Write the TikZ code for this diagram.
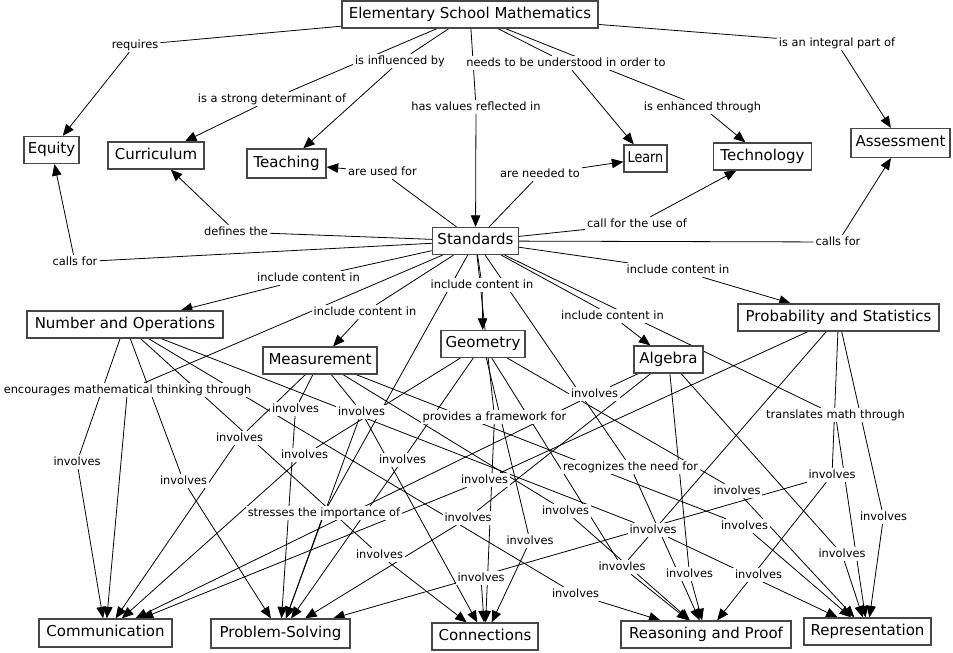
\documentclass[tikz,border=0pt]{standalone}
\usepackage{fontspec}
\setmainfont{DejaVu Sans}
\usetikzlibrary{arrows.meta}
\pgfdeclarelayer{bg}
\pgfdeclarelayer{edges}
\pgfsetlayers{bg,edges,main}
\begin{document}
\begin{tikzpicture}[x=1pt,y=-1pt,
 concept/.style={draw=black!72, line width=1.3pt, fill=white, font=\fontsize{15}{17}\selectfont, inner xsep=3pt, inner ysep=0pt, minimum height=27pt, text height=11pt, text depth=3.5pt},
 phrase/.style={fill=white, inner xsep=2pt, inner ysep=1.5pt, font=\fontsize{11.4}{13}\selectfont, text height=8.5pt, text depth=2.5pt},
 link/.style={line width=0.8pt},
 arr/.style={line width=0.8pt, -{Triangle[length=11.5pt,width=9.5pt]}},
]
\begin{pgfonlayer}{bg}
\fill[white] (0,0) rectangle (953,653);
\end{pgfonlayer}
\useasboundingbox (0,0) rectangle (953,653);
% concepts
\node[concept, minimum width=256pt] (ESM) at (470,14.5) {Elementary School Mathematics};
\node[concept, minimum width=55pt] (Equity) at (51.5,150) {Equity};
\node[concept, minimum width=96pt] (Curr) at (156,155.5) {Curriculum};
\node[concept, minimum width=79pt, minimum height=29pt] (Teach) at (286.5,163.5) {Teaching};
\node[concept, minimum width=43pt] (Learn) at (645.5,158.5) {\scalebox{0.85}[1]{Learn}};
\node[concept, minimum width=98pt] (Tech) at (762.5,156.5) {Technology};
\node[concept, minimum width=99pt, minimum height=29pt] (Assess) at (900.5,143) {Assessment};
\node[concept, minimum width=86pt] (Std) at (475.5,241) {Standards};
\node[concept, minimum width=196pt] (NO) at (125,324.5) {Number and Operations};
\node[concept, minimum width=114pt] (Meas) at (320,360.5) {Measurement};
\node[concept, minimum width=84pt] (Geo) at (483,344) {Geometry};
\node[concept, minimum width=69pt] (Alg) at (668.5,359.5) {Algebra};
\node[concept, minimum width=201pt] (Prob) at (838.5,317.5) {Probability and Statistics};
\node[concept, minimum width=133pt, minimum height=28pt] (Comm) at (105.5,633) {Communication};
\node[concept, minimum width=139pt, minimum height=29pt] (PSolv) at (280.5,633.5) {Problem-Solving};
\node[concept, minimum width=106pt] (Conn) at (485,636.5) {Connections};
\node[concept, minimum width=170pt] (RP) at (706,634.5) {Reasoning and Proof};
\node[concept, minimum width=127pt] (Rep) at (867.5,631.5) {Representation};
% linking phrases
\node[phrase] (requires) at (135,45) {requires};
\node[phrase] (infl) at (400,61) {is influenced by};
\node[phrase] (isdet) at (272,99) {is a strong determinant of};
\node[phrase] (needs) at (566,63) {needs to be understood in order to};
\node[phrase] (integral) at (837,43) {is an integral part of};
\node[phrase] (hasval) at (476,107) {has values reflected in};
\node[phrase] (enh) at (702.5,107) {is enhanced through};
\node[phrase] (usedfor) at (382.5,172) {are used for};
\node[phrase] (neededto) at (540,174) {are needed to};
\node[phrase] (defines) at (236,232) {defines the};
\node[phrase] (callsL) at (75,262) {calls for};
\node[phrase] (callfor) at (637,224) {call for the use of};
\node[phrase] (callsR) at (838,242) {calls for};
\node[phrase] (icA) at (308.5,278) {include content in};
\node[phrase] (icE) at (678,270) {include content in};
\node[phrase] (icC) at (482,285) {include content in};
\node[phrase] (icB) at (365,312) {include content in};
\node[phrase] (icD) at (612.5,316) {include content in};
\node[phrase] (encour) at (127.5,390) {encourages mathematical thinking through};
\node[phrase] (i295) at (295.5,409) {involves};
\node[phrase] (i361) at (361.5,412) {involves};
\node[phrase] (provides) at (494.5,417) {provides a framework for};
\node[phrase] (i594) at (594.5,394) {involves};
\node[phrase] (transl) at (835.5,415) {translates math through};
\node[phrase] (i77) at (77,462) {involves};
\node[phrase] (i239) at (239.5,438) {involves};
\node[phrase] (i183) at (183.5,481) {involves};
\node[phrase] (i304) at (304.5,455) {involves};
\node[phrase] (i402) at (402.5,460) {involves};
\node[phrase] (stresses) at (324,513) {stresses the importance of};
\node[phrase] (i484) at (484.5,480) {involves};
\node[phrase] (recog) at (630.5,467) {recognizes the need for};
\node[phrase] (i737) at (737,491) {involves};
\node[phrase] (i832) at (832,475) {involves};
\node[phrase] (i883) at (883.5,517) {involves};
\node[phrase] (i379) at (379.5,555) {involves};
\node[phrase] (i468) at (468,518) {involves};
\node[phrase] (i565) at (565.5,511) {involves};
\node[phrase] (i530) at (530,541) {involves};
\node[phrase] (i653) at (653,530) {involves};
\node[phrase] (i744) at (744.5,526) {involves};
\node[phrase] (i481) at (481,578) {involves};
\node[phrase] (i622) at (622,567) {invovles};
\node[phrase] (i689) at (689.5,574) {involves};
\node[phrase] (i758) at (758.5,575) {involves};
\node[phrase] (i575) at (575.5,594) {involves};
\node[phrase] (i842) at (842,554) {involves};
\begin{pgfonlayer}{edges}
% top
\draw[link] (ESM) -- (requires); \draw[arr] (requires) -- (Equity);
\draw[link] (ESM) -- (isdet); \draw[arr] (isdet) -- (Curr);
\draw[link] (ESM) -- (infl); \draw[arr] (infl) -- (Teach);
\draw[link] (ESM) -- (hasval); \draw[arr] (hasval) -- (Std);
\draw[link] (ESM) -- (needs); \draw[arr] (needs) -- (Learn);
\draw[link] (ESM) -- (enh); \draw[arr] (enh) -- (Tech);
\draw[link] (ESM) -- (integral); \draw[arr] (integral) -- (Assess);
\draw[link] (Std) -- (usedfor); \draw[arr] (usedfor) -- (Teach);
\draw[link] (Std) -- (neededto); \draw[arr] (neededto) -- (Learn);
\draw[link] (Std) -- (defines); \draw[arr] (defines) -- (Curr);
\draw[link] (Std) -- (callsL); \draw[arr] (callsL) -- (Equity);
\draw[link] (Std) -- (callfor); \draw[arr] (callfor) -- (Tech);
\draw[link] (Std) -- (callsR); \draw[arr] (callsR) -- (Assess);
\draw[link] (Std) -- (icA); \draw[arr] (icA) -- (NO);
\draw[link] (Std) -- (icB); \draw[arr] (icB) -- (Meas);
\draw[link] (Std) -- (icC); \draw[arr] (icC) -- (Geo);
\draw[link] (Std) -- (icD); \draw[arr] (icD) -- (Alg);
\draw[link] (Std) -- (icE); \draw[arr] (icE) -- (Prob);
\draw[link] (Std) -- (encour); \draw[arr] (encour) -- (Comm);
\draw[link] (Std) -- (stresses); \draw[arr] (stresses) -- (PSolv);
\draw[link] (Std) -- (provides); \draw[arr] (provides) -- (Conn);
\draw[link] (Std) -- (recog); \draw[arr] (recog) -- (RP);
\draw[link] (Std) -- (transl); \draw[arr] (transl) -- (Rep);
% content -> process
\draw[link] (NO) -- (i77); \draw[arr] (i77) -- (Comm);
\draw[link] (NO) -- (i183); \draw[arr] (i183) -- (PSolv);
\draw[link] (NO) -- (i379); \draw[arr] (i379) -- (Conn);
\draw[link] (NO) -- (i575); \draw[arr] (i575) -- (RP);
\draw[link] (NO) -- (i653); \draw[arr] (i653) -- (Rep);
\draw[link] (Meas) -- (i239); \draw[arr] (i239) -- (Comm);
\draw[link] (Meas) -- (i295); \draw[arr] (i295) -- (PSolv);
\draw[link] (Meas) -- (i361); \draw[arr] (i361) -- (Conn); \draw[arr] (i361) -- (PSolv);
\draw[link] (Meas) -- (i565); \draw[arr] (i565) -- (RP);
\draw[link] (Meas) -- (i744); \draw[arr] (i744) -- (Rep);
\draw[link] (Geo) -- (i304); \draw[arr] (i304) -- (Comm);
\draw[link] (Geo) -- (i402); \draw[arr] (i402) -- (PSolv);
\draw[link] (Geo) -- (i530); \draw[arr] (i530) -- (Conn);
\draw[link] (Geo) -- (i737); \draw[arr] (i737) -- (Rep);
\draw[link] (Geo) -- (i622);
\draw[link] (Alg) -- (i594); \draw[arr] (i594) -- (Comm);
\draw[link] (Alg) -- (i468); \draw[arr] (i468) -- (PSolv);
\draw[link] (Alg) -- (i689); \draw[arr] (i689) -- (RP);
\draw[link] (Alg) -- (i842); \draw[arr] (i842) -- (Rep);
\draw[link] (Prob) -- (i484); \draw[arr] (i484) -- (Comm);
\draw[link] (Prob) -- (i622); \draw[arr] (i622) -- (RP);
\draw[link] (Prob) -- (i832); \draw[arr] (i832) -- (PSolv); \draw[arr] (i832) -- (RP);
\draw[link] (Prob) -- (i883); \draw[arr] (i883) -- (Rep);
\draw[arr] (i481) -- (Conn);
\end{pgfonlayer}
\end{tikzpicture}
\end{document}
